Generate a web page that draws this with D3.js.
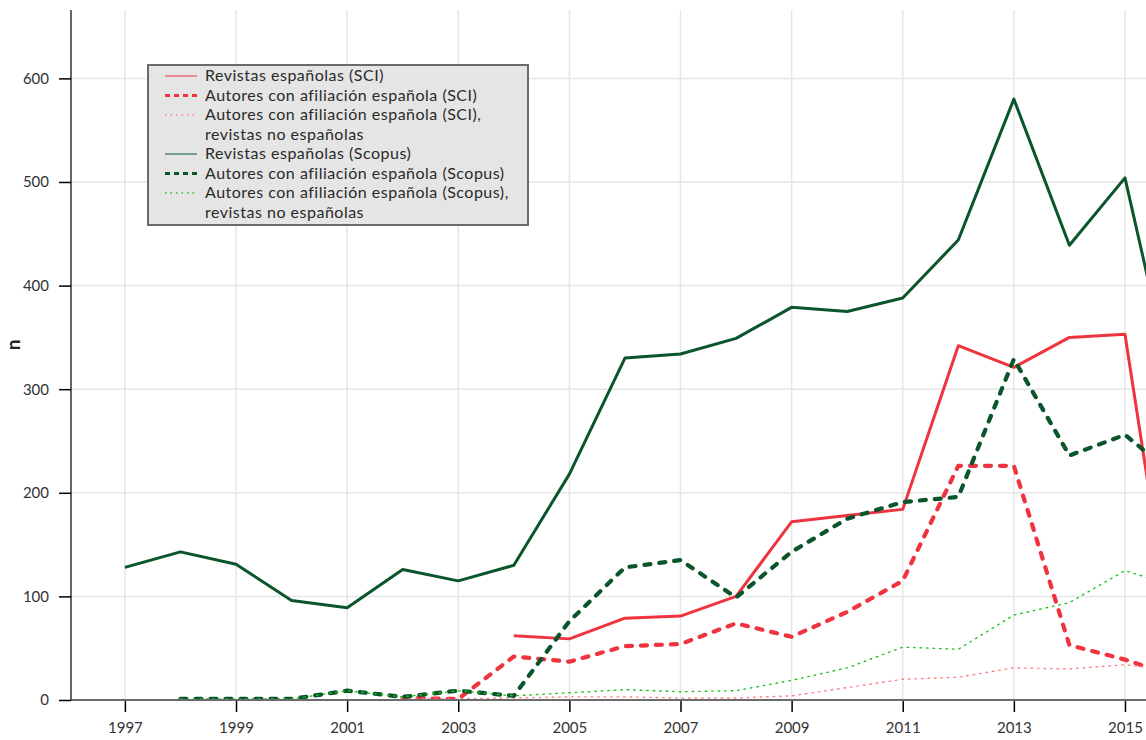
<!DOCTYPE html>
<html>
<head>
<meta charset="utf-8">
<script src="https://cdn.jsdelivr.net/npm/d3@7"></script>
<style>
  body { margin: 0; background: #fff; }
  svg { display: block; font-family: Lato, "Open Sans", sans-serif; }
</style>
</head>
<body>
<div id="chart"></div>
<script>
// years on the x axis
const years = [1997, 1998, 1999, 2000, 2001, 2002, 2003, 2004, 2005, 2006,
               2007, 2008, 2009, 2010, 2011, 2012, 2013, 2014, 2015, 2016];
const xTicks = [1997, 1999, 2001, 2003, 2005, 2007, 2009, 2011, 2013, 2015];
const yTicks = [0, 100, 200, 300, 400, 500, 600];

// SCI
const sciRevistas = [null, null, null, null, null, null, null, 62, 59, 79,
                     81, 100, 172, 178, 184, 342, 321, 350, 353, 5];
const sciAutores = [null, null, null, null, null, 2, 1, 42, 37, 52,
                    54, 74, 61, 85, 115, 226, 226, 53, 39, 21];
const sciNoEsp = [null, null, null, null, null, 1, 1, 2, 3, 3,
                  2, 2, 4, 12, 20, 22, 31, 30, 34, 28];
// Scopus
const scopusRevistas = [128, 143, 131, 96, 89, 126, 115, 130, 218, 330,
                        334, 349, 379, 375, 388, 444, 580, 439, 504, 268];
const scopusAutores = [null, 1, 1, 1, 9, 3, 9, 4, 76, 128,
                       135, 99, 143, 175, 191, 196, 329, 236, 256, 212];
const scopusNoEsp = [null, 1, 1, 1, 9, 3, 9, 4, 7, 10,
                     8, 9, 19, 31, 51, 49, 82, 94, 125, 108];

const seriesLabels = [
  ["Revistas españolas (SCI)"],
  ["Autores con afiliación española (SCI)"],
  ["Autores con afiliación española (SCI),", "revistas no españolas"],
  ["Revistas españolas (Scopus)"],
  ["Autores con afiliación española (Scopus)"],
  ["Autores con afiliación española (Scopus),", "revistas no españolas"]
];

const RED = "#ef343f", GREEN = "#0a552b", LGREEN = "#1ec21e", PINK = "#ff7d86";

const styles = [
  { values: sciRevistas,    color: RED,    width: 3,   dash: null,  legendWidth: 1 },
  { values: sciAutores,     color: RED,    width: 4.2, dash: "6,9", legendWidth: 3 },
  { values: sciNoEsp,       color: PINK,   width: 1.4, dash: "1.5,5", legendWidth: 1.4 },
  { values: scopusRevistas, color: GREEN,  width: 3,   dash: null,  legendWidth: 1 },
  { values: scopusAutores,  color: GREEN,  width: 4.2, dash: "6,9", legendWidth: 3 },
  { values: scopusNoEsp,    color: LGREEN, width: 1.4, dash: "1.5,5", legendWidth: 1.4 }
];

const width = 1146, height = 740;
const svg = d3.select("#chart").append("svg")
  .attr("width", width).attr("height", height);

const x = d3.scaleLinear().domain([1996.03, 2017]).range([71, 71 + 20.97 * 55.56]);
const y = d3.scaleLinear().domain([0, 666]).range([700, 10]);

// grid
const grid = svg.append("g");
grid.selectAll(".vg").data(xTicks).join("line")
  .attr("x1", d => x(d)).attr("x2", d => x(d))
  .attr("y1", y(666)).attr("y2", y(0))
  .attr("stroke", "#e6e6e6").attr("stroke-width", 1.5);
grid.selectAll(".hg").data(yTicks.slice(1)).join("line")
  .attr("x1", 71).attr("x2", width)
  .attr("y1", d => y(d)).attr("y2", d => y(d))
  .attr("stroke", "#e6e6e6").attr("stroke-width", 1.5);

// lines
const line = d3.line()
  .defined(d => d[1] != null)
  .x(d => x(d[0])).y(d => y(d[1]));

styles.forEach(s => {
  svg.append("path")
    .datum(years.map((yr, i) => [yr, s.values[i]]))
    .attr("d", line)
    .attr("fill", "none")
    .attr("stroke", s.color)
    .attr("stroke-width", s.width)
    .attr("stroke-dasharray", s.dash)
    .attr("stroke-linecap", s.dash ? "round" : "butt")
    .attr("stroke-linejoin", "round");
});

// x axis
const xAxis = svg.append("g").attr("transform", "translate(0,700)")
  .call(d3.axisBottom(x).tickValues(xTicks).tickFormat(d3.format("d")).tickSize(12).tickPadding(10));
xAxis.select(".domain").remove();
xAxis.selectAll(".tick line").attr("stroke", "#000").attr("stroke-width", 1.5);
xAxis.selectAll("text").attr("font-size", 15).attr("fill", "#333").attr("font-family", "Lato, sans-serif");
svg.append("line")
  .attr("x1", 71).attr("x2", width).attr("y1", 700).attr("y2", 700)
  .attr("stroke", "#6b6b6b").attr("stroke-width", 2);

// y axis
const yAxis = svg.append("g").attr("transform", "translate(71,0)")
  .call(d3.axisLeft(y).tickValues(yTicks).tickSize(12).tickPadding(10));
yAxis.select(".domain").attr("d", "M0," + y(666) + "V" + y(0)).attr("stroke", "#000").attr("stroke-width", 1.2);
yAxis.selectAll(".tick line").attr("stroke", "#000").attr("stroke-width", 1.5);
yAxis.selectAll("text").attr("font-size", 15).attr("fill", "#333").attr("font-family", "Lato, sans-serif");

svg.append("text")
  .attr("transform", "translate(20,345) rotate(-90)")
  .attr("text-anchor", "middle")
  .attr("font-size", 19).attr("font-weight", "bold").attr("fill", "#222")
  .text("n");

// legend
const lg = svg.append("g");
lg.append("rect")
  .attr("x", 148).attr("y", 65).attr("width", 380).attr("height", 160)
  .attr("fill", "#e5e5e5").attr("stroke", "#6a6a6a").attr("stroke-width", 2);

let rowY = 76;
styles.forEach((s, i) => {
  lg.append("line")
    .attr("x1", 165).attr("x2", 197).attr("y1", rowY).attr("y2", rowY)
    .attr("stroke", s.color).attr("stroke-width", s.legendWidth)
    .attr("stroke-dasharray", s.dash ? (s.legendWidth > 2 ? "5,4" : "1.5,4") : null);
  const t = lg.append("text")
    .attr("x", 205).attr("y", rowY + 5)
    .attr("font-size", 16).attr("letter-spacing", 0.5).attr("fill", "#2a2a2a");
  seriesLabels[i].forEach((ln, j) => {
    t.append("tspan").attr("x", 205).attr("dy", j === 0 ? 0 : 19.5).text(ln);
  });
  rowY += 19.5 * seriesLabels[i].length;
});
</script>
</body>
</html>
